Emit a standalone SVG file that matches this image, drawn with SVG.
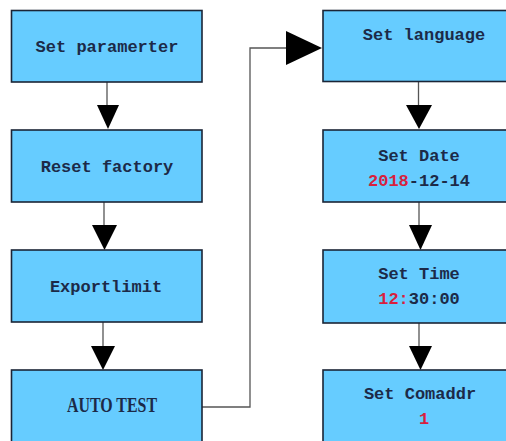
<svg xmlns="http://www.w3.org/2000/svg" width="506" height="441" viewBox="0 0 506 441">
<style>
.box{fill:#66ccff;stroke:#1b2536;stroke-width:1.6}
.t{font-family:"Liberation Mono","DejaVu Sans Mono",monospace;font-weight:bold;font-size:17px;fill:#1c2a48;text-anchor:middle}
.r{fill:#d81f3e}
.line{fill:none;stroke:#555;stroke-width:1.3}
.head{fill:#000}
</style>
<rect width="506" height="441" fill="#fff"/>
<g id="connectors">
<path class="line" d="M107 82V106"/>
<polygon class="head" points="97,105 119,105 108,129"/>
<path class="line" d="M104 202V226"/>
<polygon class="head" points="92,225 117,225 104.5,250"/>
<path class="line" d="M103 322V347"/>
<polygon class="head" points="91,346 115,346 103,370"/>
<path class="line" d="M202 407H250V48H288"/>
<polygon class="head" points="286,31 322,48 286,65"/>
<path class="line" d="M418.5 82V106"/>
<polygon class="head" points="406,105 432,105 419,129"/>
<path class="line" d="M419 202V226"/>
<polygon class="head" points="409,225 432,225 420.5,250"/>
<path class="line" d="M419 323V347"/>
<polygon class="head" points="409,346 432,346 420.5,370"/>
</g>
<g id="set-paramerter">
<rect class="box" x="11.5" y="10.5" width="190.5" height="71.5"/>
<text class="t" x="107" y="52">Set paramerter</text>
</g>
<g id="reset-factory">
<rect class="box" x="11.5" y="130" width="190.5" height="72"/>
<text class="t" x="107" y="172">Reset factory</text>
</g>
<g id="exportlimit">
<rect class="box" x="11.5" y="250" width="190.5" height="72"/>
<text class="t" x="106" y="292">Exportlimit</text>
</g>
<g id="auto-test">
<rect class="box" x="11.5" y="370" width="190.5" height="80"/>
<text x="112" y="412" textLength="90" lengthAdjust="spacingAndGlyphs" style="font-family:'Liberation Serif','Times New Roman',serif;font-weight:bold;font-size:20px;fill:#1c2a48;text-anchor:middle">AUTO TEST</text>
</g>
<g id="set-language">
<rect class="box" x="323" y="10.5" width="192" height="71"/>
<text class="t" x="424" y="40">Set language</text>
</g>
<g id="set-date">
<rect class="box" x="323" y="130" width="192" height="72"/>
<text class="t" x="419" y="161">Set Date</text>
<text class="t" x="419" y="186"><tspan class="r">2018</tspan>-12-14</text>
</g>
<g id="set-time">
<rect class="box" x="323" y="250" width="192" height="73"/>
<text class="t" x="419" y="279">Set Time</text>
<text class="t" x="419" y="304"><tspan class="r">12:</tspan>30:00</text>
</g>
<g id="set-comaddr">
<rect class="box" x="323" y="370" width="192" height="80"/>
<text class="t" x="420" y="399">Set Comaddr</text>
<text class="t r" x="424" y="424">1</text>
</g>
</svg>
